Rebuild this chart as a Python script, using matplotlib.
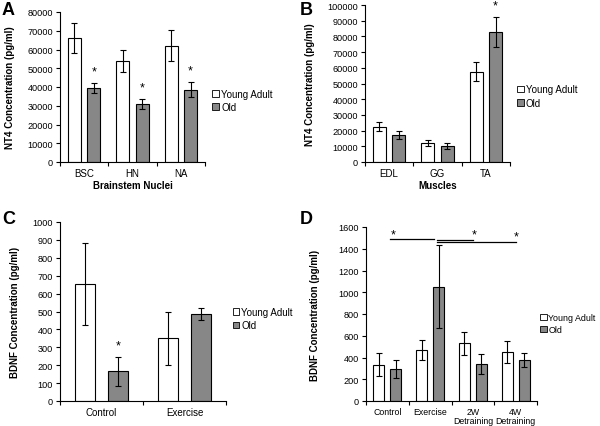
import matplotlib
matplotlib.use("Agg")
import matplotlib.pyplot as plt
import numpy as np
from matplotlib.patches import Patch

plt.rcParams['font.family'] = ['Liberation Sans', 'DejaVu Sans']

series_names = ["Young Adult", "Old"]

# Panel A
a_cats = ["BSC", "HN", "NA"]
a_young = [66000, 54000, 62000]
a_young_err = [8000, 6000, 8300]
a_old = [39500, 31000, 38500]
a_old_err = [2700, 2500, 4000]
a_ticks = [0, 10000, 20000, 30000, 40000, 50000, 60000, 70000, 80000]

# Panel B
b_cats = ["EDL", "GG", "TA"]
b_young = [22500, 12000, 57500]
b_young_err = [2800, 2000, 6000]
b_old = [17000, 10000, 83000]
b_old_err = [2600, 1800, 9500]
b_ticks = list(range(0, 100001, 10000))

# Panel C
c_cats = ["Control", "Exercise"]
c_young = [655, 350]
c_young_err = [230, 150]
c_old = [165, 485]
c_old_err = [80, 32]
c_ticks = list(range(0, 1001, 100))

# Panel D
d_cats = ["Control", "Exercise", "2W\nDetraining", "4W\nDetraining"]
d_young = [335, 470, 530, 450]
d_young_err = [105, 90, 105, 105]
d_old = [295, 1050, 340, 375]
d_old_err = [85, 380, 90, 65]
d_ticks = list(range(0, 1601, 200))
# significance brackets in D: (x_start, x_end, y)
d_sig_lines = [(0.07, 1.08, 1490), (1.15, 2.01, 1478), (1.15, 3.0, 1462)]
d_sig_stars = [(0.14, 1530), (2.03, 1530), (3.02, 1515)]

# stars marking old bars in A, B, C
a_star = [True, True, True]
b_star = [False, False, True]
c_star = [True, False]

W, H = 600, 427
fig = plt.figure(figsize=(6.0, 4.27), dpi=100)

GRAY = '#878787'
TICK_FS = 6.6
LAB_FS = 7


def make_axes(px_left, px_right, px_top, px_bottom):
    return fig.add_axes([px_left / W, 1 - px_bottom / H,
                         (px_right - px_left) / W, (px_bottom - px_top) / H])


def panel(ax, cats, young, yerr, old, oerr, ticks, width, off, ylabel, xlabel,
          stars, ylabel_x, leg_x, leg_y, leg_fs=7, xtick_fs=LAB_FS):
    x = np.arange(len(cats))
    ekw = dict(elinewidth=0.8, capthick=0.8)
    ax.bar(x - off, young, width, color='white', edgecolor='black', linewidth=0.8,
           yerr=yerr, capsize=2, error_kw=ekw, zorder=2)
    ax.bar(x + off, old, width, color=GRAY, edgecolor='black', linewidth=0.8,
           yerr=oerr, capsize=2, error_kw=ekw, zorder=2)
    for i, s in enumerate(stars):
        if s:
            ax.annotate('*', (x[i] + off, old[i] + oerr[i]), xytext=(0, 8.5),
                        textcoords='offset points', ha='center', va='center',
                        fontsize=9)
    ax.set_xlim(-0.5, len(cats) - 0.5)
    ax.set_ylim(ticks[0], ticks[-1])
    ax.set_yticks(ticks)
    ax.set_yticklabels([str(t) for t in ticks], fontsize=TICK_FS)
    ax.set_xticks(np.arange(len(cats) + 1) - 0.5, minor=False)
    ax.set_xticklabels([])
    ax.set_xticks(x, minor=True)
    ax.set_xticklabels(cats, minor=True, fontsize=xtick_fs, linespacing=1.0)
    ax.tick_params(axis='x', which='minor', length=0, pad=4)
    ax.tick_params(axis='both', which='major', direction='out', length=3,
                   width=0.8, pad=2)
    for sp in ['top', 'right']:
        ax.spines[sp].set_visible(False)
    for sp in ['left', 'bottom']:
        ax.spines[sp].set_linewidth(0.8)
    ax.set_ylabel(ylabel, fontsize=LAB_FS, fontweight='bold')
    ax.yaxis.set_label_coords(ylabel_x, 0.5)
    if xlabel:
        ax.set_xlabel(xlabel, fontsize=LAB_FS, fontweight='bold', labelpad=2)
    handles = [Patch(facecolor='white', edgecolor='black', linewidth=0.6),
               Patch(facecolor=GRAY, edgecolor='black', linewidth=0.6)]
    ax.legend(handles, series_names, loc='center left', bbox_to_anchor=(leg_x, leg_y),
              frameon=False, fontsize=leg_fs, handlelength=0.7, handleheight=0.7,
              handletextpad=0.2, borderpad=0, borderaxespad=0, labelspacing=0.35)


axA = make_axes(60, 205, 13, 163)
panel(axA, a_cats, a_young, a_young_err, a_old, a_old_err, a_ticks, 0.27, 0.2,
      'NT4 Concentration (pg/ml)', 'Brainstem Nuclei', a_star, -0.31, 1.05, 0.41)

axB = make_axes(365, 510, 6, 163)
panel(axB, b_cats, b_young, b_young_err, b_old, b_old_err, b_ticks, 0.27, 0.2,
      'NT4 Concentration (pg/ml)', 'Muscles', b_star, -0.345, 1.05, 0.42)

axC = make_axes(60, 226, 223, 402)
panel(axC, c_cats, c_young, c_young_err, c_old, c_old_err, c_ticks, 0.24, 0.2,
      'BDNF Concentration (pg/ml)', None, c_star, -0.24, 1.04, 0.46)

axD = make_axes(366, 537, 228, 402)
panel(axD, d_cats, d_young, d_young_err, d_old, d_old_err, d_ticks, 0.26, 0.2,
      'BDNF Concentration (pg/ml)', None, [False] * 4, -0.27, 1.02, 0.445,
      leg_fs=6.4, xtick_fs=6.3)
for x0, x1, y in d_sig_lines:
    axD.plot([x0, x1], [y, y], color='black', linewidth=0.9, clip_on=False)
for xs, ys in d_sig_stars:
    axD.text(xs, ys, '*', ha='center', va='center', fontsize=9)

for lbl, fx, fy in [('A', 2, 2), ('B', 300, 2), ('C', 2, 211), ('D', 300, 211)]:
    fig.text(fx / W, 1 - fy / H, lbl, ha='left', va='top', fontsize=13,
             fontweight='bold')

fig.savefig('out.png', dpi=100)
